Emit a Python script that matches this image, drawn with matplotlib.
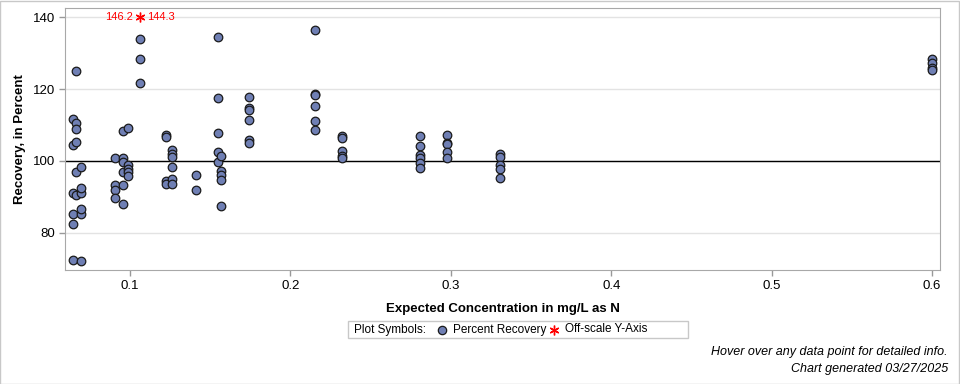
import matplotlib
matplotlib.use('Agg')
import matplotlib.pyplot as plt
from matplotlib.lines import Line2D
from matplotlib.patches import Rectangle

plt.rcParams['font.family'] = ['Liberation Sans', 'DejaVu Sans']

# expected concentration (mg/L as N) and percent recovery
conc = [0.0646] * 6 + [0.0663] * 6 + [0.0694] * 6 + [0.0908] * 4 + [0.0954] * 6 + \
       [0.0986] * 5 + [0.1064] * 3 + [0.1225] * 4 + [0.1264] * 6 + [0.1409] * 2 + \
       [0.1545] * 5 + [0.1565] * 5 + [0.1744] * 6 + [0.2154] * 6 + [0.2324] * 5 + \
       [0.2805] * 6 + [0.2973] * 5 + [0.3304] * 5 + [0.6] * 4
recovery = [111.8, 104.4, 91.1, 85.2, 82.4, 72.5,
            125.0, 110.6, 108.8, 105.3, 96.8, 90.6,
            98.3, 91.1, 92.4, 85.2, 86.6, 72.2,
            100.8, 93.2, 91.9, 89.6,
            108.3, 100.8, 99.7, 96.8, 93.3, 88.1,
            109.2, 98.9, 97.8, 96.8, 95.8,
            133.8, 128.3, 121.7,
            107.3, 106.6, 94.3, 93.6,
            103.1, 101.9, 101.0, 98.4, 95.0, 93.5,
            96.1, 91.9,
            134.4, 117.4, 107.8, 102.5, 99.6,
            101.4, 97.2, 96.2, 94.6, 87.5,
            117.7, 114.7, 114.3, 111.4, 105.8, 104.9,
            136.3, 118.7, 118.3, 115.2, 111.1, 108.6,
            106.8, 106.3, 102.9, 101.5, 100.8,
            106.9, 104.1, 101.6, 100.8, 99.5, 98.1,
            107.1, 104.9, 104.6, 102.5, 100.8,
            101.8, 101.0, 98.8, 97.7, 95.2,
            128.3, 127.1, 125.8, 125.3]

# off-scale values
off_conc = 0.1064
off_vals = ['146.2', '144.3']
off_plot_y = 140

y_ticks = [80, 100, 120, 140]
x_ticks = [0.1, 0.2, 0.3, 0.4, 0.5, 0.6]

face = '#6F7FB4'

fig = plt.figure(figsize=(9.6, 3.84), dpi=100)
ax = fig.add_axes([0.0677, 0.297, 0.9115, 0.682])

for v in y_ticks:
    ax.axhline(v, color='#E3E3E3', lw=1, zorder=0)
ax.axhline(100, color='black', lw=1, zorder=1)

ax.scatter(conc, recovery, s=38, facecolor=face, edgecolor='#1a1a1a', linewidth=0.9, zorder=3)

ax.plot([off_conc], [off_plot_y], marker=(6, 2, 0), color='red', markersize=7, mew=1, ls='none', zorder=4)
ax.text(off_conc - 0.0045, off_plot_y, off_vals[0], color='red', fontsize=8, ha='right', va='center')
ax.text(off_conc + 0.0045, off_plot_y, off_vals[1], color='red', fontsize=8, ha='left', va='center')

ax.set_xlim(0.0594, 0.605)
ax.set_ylim(69.7, 142.5)
ax.set_yticks(y_ticks)
ax.set_xticks(x_ticks)
ax.set_xticklabels(['0.1', '0.2', '0.3', '0.4', '0.5', '0.6'])
ax.tick_params(labelsize=9.5, color='#999999', length=4, width=1, pad=3)
for s in ax.spines.values():
    s.set_color('#A8A8A8')

ax.set_xlabel('Expected Concentration in mg/L as N', fontsize=9.5, fontweight='bold', labelpad=8)
ax.set_ylabel('Recovery, in Percent', fontsize=9.5, fontweight='bold', labelpad=5)

# legend box drawn by hand
W, H = 960.0, 384.0
fig.add_artist(Rectangle((348 / W, 1 - 338 / H), 340 / W, 17 / H, transform=fig.transFigure,
                         facecolor='white', edgecolor='#C8C8C8', lw=1))
ly = 1 - 329.5 / H
fig.text(354 / W, ly, 'Plot Symbols:', fontsize=8.5, va='center')
fig.add_artist(Line2D([442 / W], [ly], transform=fig.transFigure, marker='o', markersize=6,
                      markerfacecolor=face, markeredgecolor='#1a1a1a', mew=0.9, ls='none'))
fig.text(453 / W, ly, 'Percent Recovery', fontsize=8.5, va='center')
fig.add_artist(Line2D([554 / W], [ly], transform=fig.transFigure, marker=(6, 2, 0), markersize=7,
                      color='red', mew=1, ls='none'))
fig.text(565 / W, ly, 'Off-scale Y-Axis', fontsize=8.5, va='center')

fig.text(948 / W, 1 - 352 / H, 'Hover over any data point for detailed info.', fontsize=9,
         style='italic', ha='right', va='center')
fig.text(948 / W, 1 - 369 / H, 'Chart generated 03/27/2025', fontsize=9,
         style='italic', ha='right', va='center')

fig.add_artist(Rectangle((0.0005, 0.001), 0.998, 0.997, transform=fig.transFigure,
                         facecolor='none', edgecolor='#C8C8C8', lw=1))

fig.savefig('out.png', dpi=100)
